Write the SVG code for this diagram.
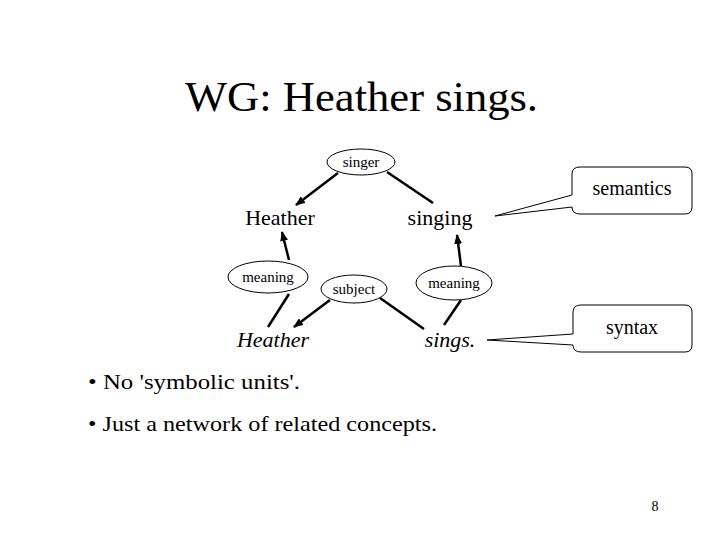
<svg xmlns="http://www.w3.org/2000/svg" width="720" height="540" viewBox="0 0 720 540">
<defs><marker id="ah" markerWidth="10" markerHeight="8" refX="9" refY="4" orient="auto" markerUnits="userSpaceOnUse"><path d="M0,0 L10,4 L0,8 z" fill="#000"/></marker></defs>
<style>
text{font-family:"Liberation Serif",serif;fill:#000}
.e{fill:#fff;stroke:#000;stroke-width:1}
.l{stroke:#000;stroke-width:2.5;fill:none}
.c{fill:#fff;stroke:#000;stroke-width:1}
</style>
<rect width="720" height="540" fill="#fff"/>
<text x="185" y="111" font-size="42" textLength="353" lengthAdjust="spacingAndGlyphs">WG: Heather sings.</text>
<g id="connectors">
<line class="l" x1="338" y1="173" x2="296" y2="205" marker-end="url(#ah)"/>
<line class="l" x1="387" y1="172" x2="433" y2="203"/>
<line class="l" x1="289" y1="294" x2="268" y2="327"/>
<line class="l" x1="289" y1="260" x2="282" y2="232" marker-end="url(#ah)"/>
<line class="l" x1="330" y1="300" x2="294" y2="327" marker-end="url(#ah)"/>
<line class="l" x1="380" y1="298" x2="424" y2="329"/>
<line class="l" x1="461" y1="300" x2="444" y2="325"/>
<line class="l" x1="461" y1="266" x2="457" y2="235" marker-end="url(#ah)"/>
</g>
<g id="singer"><ellipse class="e" cx="361" cy="162" rx="34" ry="13"/><text x="361" y="167" font-size="15" text-anchor="middle">singer</text></g>
<g id="Heather"><text x="280" y="225" font-size="22" text-anchor="middle">Heather</text></g>
<g id="singing"><text x="440" y="225" font-size="22" text-anchor="middle">singing</text></g>
<g id="meaning1"><ellipse class="e" cx="268" cy="277" rx="40" ry="16"/><text x="268" y="282" font-size="15" text-anchor="middle">meaning</text></g>
<g id="subject"><ellipse class="e" cx="354" cy="289" rx="33" ry="14"/><text x="354" y="294" font-size="15" text-anchor="middle">subject</text></g>
<g id="meaning2"><ellipse class="e" cx="454" cy="283" rx="38" ry="17"/><text x="454" y="288" font-size="15" text-anchor="middle">meaning</text></g>
<g id="HeatherI"><text x="273" y="347" font-size="22" font-style="italic" text-anchor="middle">Heather</text></g>
<g id="sings"><text x="450" y="347" font-size="22" font-style="italic" text-anchor="middle">sings.</text></g>
<g id="semantics"><path class="c" d="M580,167 H685 Q692,167 692,174 V207 Q692,214 685,214 H580 Q572,214 572,207 L495,216 L572,195 V174 Q572,167 580,167 z"/><text x="632" y="195" font-size="20" text-anchor="middle">semantics</text></g>
<g id="syntax"><path class="c" d="M581,305 H685 Q692,305 692,312 V345 Q692,352 685,352 H581 Q573,352 573,345 L487,340 L573,334 V312 Q573,305 581,305 z"/><text x="632" y="334" font-size="20" text-anchor="middle">syntax</text></g>
<text x="88" y="389" font-size="22" textLength="212" lengthAdjust="spacingAndGlyphs">• No 'symbolic units'.</text>
<text x="88" y="431" font-size="22" textLength="349" lengthAdjust="spacingAndGlyphs">• Just a network of related concepts.</text>
<text x="655" y="511" font-size="14" text-anchor="middle">8</text>
</svg>
